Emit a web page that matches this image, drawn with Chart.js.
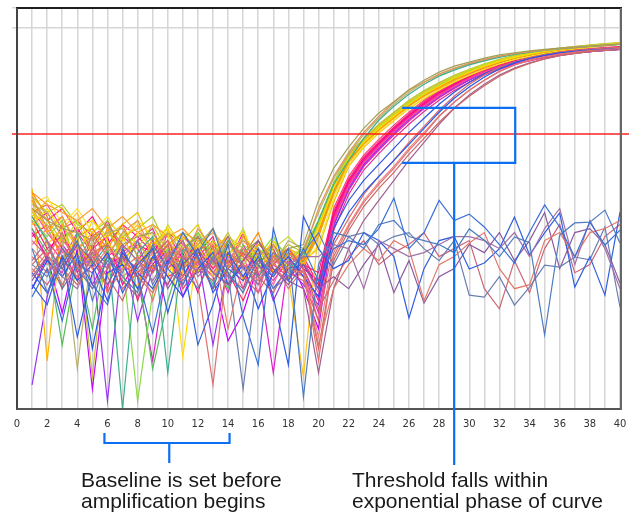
<!DOCTYPE html>
<html><head><meta charset="utf-8">
<script src="https://cdn.jsdelivr.net/npm/chart.js@4.4.1/dist/chart.umd.min.js"></script>
<style>
html,body{margin:0;padding:0;background:#fff;}
#wrap{position:relative;width:629px;height:516px;overflow:hidden;background:#fff;}
canvas{position:absolute;left:0;top:0;}
.note{position:absolute;font-family:"Liberation Sans",Arial,Helvetica,sans-serif;font-size:21px;line-height:21px;color:#1a1a1a;white-space:nowrap;}
</style></head><body>
<div id="wrap"><canvas id="c" width="629" height="516"></canvas>
<div class="note" style="left:81px;top:469px">Baseline is set before<br>amplification begins</div>
<div class="note" style="left:352px;top:469px">Threshold falls within<br>exponential phase of curve</div>
</div>
<script>
// ---- data (cycle number vs. fluorescence, arbitrary units 0-100) ----
const cycles = [1,2,3,4,5,6,7,8,9,10,11,12,13,14,15,16,17,18,19,20,21,22,23,24,25,26,27,28,29,30,31,32,33,34,35,36,37,38,39,40];
const xTickLabels = [0,2,4,6,8,10,12,14,16,18,20,22,24,26,28,30,32,34,36,38,40];
const yGridValues = [95,100];
const thresholdValue = 68.6;
const baselineBracket = [5.8, 14.1, 10.1];           // cycles: start, end, centre
const thresholdBox = [25.55, 33.05, 75.1, 61.4, 29]; // x1, x2, yTop, yBottom, stem cycle

const earlyCurves = [
 [50,47,45,44,42,46,41,43,44,38,40,43,36,41,39,42,37,40, 41,52,60,65.3,70,73.8,76.6,79.6,82,84,85.5,86.5,87.5,88.3,88.8,89.3,89.7,90,90.3,90.5,90.8,91],
 [53,45,48,40,43,38,44,47,39,42,37,45,40,35,43,38,41,36, 39,50,58,64,69,73,76.5,79.5,81.5,83.5,85,86.2,87.2,88,88.6,89.1,89.5,89.9,90.2,90.5,90.7,91],
 [48,42,30,44,36,41,0,39,43,9,40,38,31,42,36,33,39,35, 38,47,56,62,67.5,72,75.5,78.5,81,83,84.5,85.8,86.8,87.7,88.4,89,89.4,89.8,90.1,90.4,90.6,90.9],
 [51,49,43,10,41,44,45,38,40,44,39,41,45,37,42,40,36,42, 40,49,57.5,63.5,68.5,72.5,76,79,81.5,83.3,84.8,86,87,87.9,88.5,89,89.5,89.9,90.2,90.5,90.8,91]
];
const earlyColors = ['#a3a05a','#e0945a','#3fae8e','#b9b06e'];

const yellowCurves = [
 [46,50,44,38,47,42,35,44,40,45,13,41,33,40,44,37,42,35, 38,45,55,62.5,66.5,70,73,76,78.5,80.5,82.5,84,85.5,86.7,87.7,88.5,89.2,89.7,90.2,90.5,90.8,91.1],
 [52,44,48,41,36,45,39,30,43,38,42,35,40,43,32,41,38,40, 36,43,53.5,61.5,66,69.5,72.5,75.5,78,80,82,83.8,85.2,86.5,87.5,88.3,89,89.6,90,90.4,90.7,91],
 [49,46,41,47,38,33,44,41,37,46,40,34,42,38,45,35,40,43, 39,46,56,63,67,70.5,73.5,76.5,79,81,83,84.5,86,87,88,88.8,89.4,89.9,90.3,90.6,91,91.3],
 [54,48,36,43,45,40,46,38,35,41,44,39,36,42,38,44,34,39, 37,44,54.5,62,66.3,69.8,72.8,75.8,78.3,80.3,82.3,84,85.3,86.6,87.6,88.4,89.1,89.6,90.1,90.5,90.8,91.1],
 [47,43,47,35,42,46,37,2,29,40,36,44,39,33,41,38,43,37, 40,46.5,55.5,62.8,66.8,70.3,73.3,76.2,78.7,80.7,82.7,84.2,85.7,86.9,87.9,88.6,89.3,89.8,90.3,90.6,90.9,91.2],
 [50,41,45,49,39,35,42,46,38,33,43,40,45,36,39,42,38,33, 8,44.5,54.8,62.3,66.4,69.9,72.9,75.9,78.4,80.4,82.4,84,85.4,86.7,87.7,88.5,89.2,89.7,90.2,90.5,90.8,91.1],
 [45,39,16,37,20,41,38,35,10,27,39,44,37,30,40,36,41,34, 37,43,54,62,66.2,69.7,72.7,75.7,78.2,80.2,82.2,83.8,85.3,86.5,87.5,88.3,89,89.6,90.1,90.4,90.7,91],
 [52,47,42,45,8,44,40,40,46,39,35,41,38,44,36,40,37,41, 39,45.5,55.2,62.6,66.6,70.1,73.1,76.1,78.6,80.6,82.6,84.1,85.6,86.8,87.8,88.6,89.3,89.8,90.2,90.6,90.9,91.2],
 [55,12,46,40,44,39,43,36,41,45,34,42,39,35,43,38,36,40, 38,44,54.3,62.2,66.3,69.8,72.8,75.8,78.3,80.3,82.3,83.9,85.4,86.6,87.6,88.4,89.1,89.6,90.1,90.5,90.8,91.1],
 [54,51,49,47,50,45,48,44,46,43,45,41,44,40,42,38,41,37,39, 46,55.8,63.2,67.2,70.7,73.7,76.6,79.1,81.1,83,84.5,85.9,87.1,88.1,88.8,89.5,90,90.4,90.7,91,91.3],
 [51,53,46,50,44,48,42,47,43,45,40,44,41,38,43,39,36,40,36, 41,52.5,61,65.5,69,72,75,77.5,79.6,81.6,83.3,84.8,86.1,87.2,88,88.8,89.4,89.9,90.3,90.7,91],
 [48,52,50,45,47,43,46,49,41,44,42,46,38,42,37,41,39,35,37, 40,51.5,60.5,65.2,68.8,71.9,74.9,77.4,79.5,81.5,83.2,84.7,86,87.1,88,88.7,89.3,89.8,90.2,90.6,90.9],
 [53,49,51,46,44,47,43,45,48,40,44,42,39,43,40,37,42,38,40, 47,56.5,63.6,67.5,71,74,77,79.4,81.4,83.2,84.7,86.1,87.2,88.2,88.9,89.5,90,90.4,90.8,91.1,91.4]
];
const yellowColors = ['#ffdd00','#ffa800','#c8dc22','#ff8a00','#8ed84a','#ffc21e','#56bb5a','#c9c032','#ffb400','#ff9a30','#ffe030','#e6c800','#a8d030'];

const pinkCurves = [
 [44,38,46,34,40,43,31,37,42,35,39,29,41,36,44,33,38,40, 35,32,48.5,56.8,62.3,66.2,69.9,73.2,76.2,78.9,81,83,84.6,85.8,86.8,87.6,88.2,88.7,89.1,89.4,89.7,90],
 [48,42,37,44,39,30,43,40,34,44,37,41,35,39,30,42,36,33, 37,30,47.5,56.2,61.8,65.8,69.5,72.8,75.8,78.5,80.6,82.6,84.2,85.5,86.5,87.3,88,88.5,88.9,89.2,89.5,89.8],
 [43,46,40,32,44,38,41,27,38,42,33,39,43,31,37,40,34,38, 36,34,49.2,57.3,62.8,66.6,70.3,73.6,76.6,79.3,81.3,83.3,84.9,86.1,87.1,87.9,88.5,89,89.4,89.7,90,90.3],
 [50,44,39,41,35,45,38,42,36,31,40,37,33,42,38,29,41,37, 34,22,46.5,55.6,61.4,65.4,69.2,72.5,75.5,78.2,80.4,82.4,84,85.3,86.4,87.2,87.9,88.4,88.8,89.2,89.5,89.8],
 [6,28,41,36,37,2,39,22,35,40,31,38,16,36,33,39,27,35, 31,26,45.5,54.8,60.8,64.8,68.7,72.1,75.2,77.9,80.1,82.1,83.8,85.1,86.2,87.1,87.8,88.3,88.8,89.1,89.4,89.7],
 [45,37,34,42,31,38,36,33,12,37,42,34,38,29,41,34,9,37, 33,28,47,56,61.6,65.6,69.4,72.7,75.7,78.4,80.5,82.5,84.1,85.4,86.5,87.3,88,88.5,88.9,89.3,89.6,89.9],
 [47,40,43,36,41,29,37,41,39,33,35,43,37,34,27,36,40,32, 38,31,48,56.5,62,66,69.7,73,76,78.7,80.8,82.8,84.4,85.6,86.6,87.4,88.1,88.6,89,89.3,89.6,89.9],
 [41,45,38,40,37,42,33,36,40,38,30,36,40,37,35,38,31,39, 36,29,48.8,57,62.5,66.4,70.1,73.4,76.4,79.1,81.1,83.1,84.7,85.9,86.9,87.7,88.3,88.8,89.2,89.5,89.8,90.1],
 [30,38,24,40,5,36,38,33,36,41,28,37,33,17,24,36,33,38, 30,20,46,55.3,61.1,65.1,68.9,72.3,75.3,78,80.2,82.2,83.9,85.2,86.3,87.1,87.8,88.3,88.8,89.1,89.4,89.7],
 [52,47,50,44,48,41,46,43,39,44,41,38,42,36,40,37,34,39,35, 27,46,54.5,60.5,64.5,68.3,71.8,74.9,77.6,79.9,82,83.7,85,86.1,87,87.7,88.3,88.8,89.2,89.5,89.8],
 [49,51,45,47,43,46,40,44,42,37,43,39,35,41,38,35,39,33,36, 31,50,58,63.3,67.2,70.8,74,77,79.6,81.6,83.6,85.1,86.3,87.3,88.1,88.7,89.2,89.6,89.9,90.2,90.4],
 [46,49,43,45,40,47,39,42,45,36,40,43,37,33,39,36,32,37,34, 24,44.5,53.5,59.6,63.7,67.5,71,74.2,77,79.4,81.5,83.3,84.7,85.9,86.8,87.6,88.2,88.7,89.1,89.4,89.7]
];
const pinkColors = ['#ff0099','#ff3388','#ee2277','#ff5599','#9a35ee','#dd22cc','#ff2255','#ff66aa','#c400ff','#ff1a8c','#ff4477','#e0309a'];

const lateCurves = [
 [38,34,40,36,30,35,38,33,29,36,40,31,6,38,36,34,37,30, 35,12,38,45.5,51.5,56,60,64.5,68.5,73,76.5,79.5,82,84.2,85.8,87,87.8,88.5,89,89.4,89.6,89.9],
 [30,37,33,39,15,34,36,30,38,33,28,35,39,31,36,25,34,38, 33,28,42,49,54,58,62,66,70,74,77.5,80.3,82.8,84.8,86.3,87.4,88.2,88.8,89.2,89.5,89.7,89.9],
 [36,40,35,31,38,33,27,37,34,39,32,37,30,35,39,33,29,36, 34,15,37,44.5,50.5,55,59,63.5,67.5,71.5,75,78,80.6,83,84.8,86.2,87.3,88.1,88.7,89.1,89.4,89.7],
 [33,38,30,36,34,39,32,28,36,31,38,34,37,33,30,37,35,32, 30,9,30,40,47,52,57,62,66.5,71,75,78.3,81,83.3,85,86.3,87.3,88.1,88.7,89.1,89.4,89.7],
 [40,36,42,38,35,40,37,34,39,35,41,36,33,38,40,34,37,35, 33,18,39,46,52,56.5,60.5,65,69,73,76.5,79.5,82,84.2,85.8,87,87.8,88.5,89,89.4,89.6,89.9],
 [42,38,44,35,39,41,36,33,38,42,35,38,34,39,36,31,38,34,32, 22,41,47.5,53.5,58,62,66.5,70.5,74.5,78,81,83.3,85.2,86.6,87.6,88.4,89,89.4,89.7,90,90.2],
 [34,29,38,32,36,27,39,34,30,37,33,40,29,35,32,38,30,35,36, 30,45,52,57,61,65,69,72.5,76,79,81.5,83.6,85.2,86.5,87.5,88.3,88.9,89.3,89.6,89.8,90]
];
const lateColors = ['#e07070','#2257ee','#cc6666','#a06090','#f08080','#d86a6a','#3355dd'];

const flatCurves = [
 [28,35,22,38,31,26,40,33,19,36,44,38,30,41,23,11,45,32,40, 32,40,42,41,45,52.6,40,44,52,47,48.6,45.4,41,36.4,44.1,50.9,45.4,37.9,46.6,40.9,44.6],
 [40,29,36,42,27,38,33,29,41,35,31,39,45,34,29,38,33,40,3, 36,44,43,40,46,47,43,42,41,39,44.9,42.1,38,42.9,41.5,18.5,43.4,46.4,46.6,49.6,41.4],
 [37,42,33,30,39,35,41,37,32,38,42,33,37,43,35,31,39,36,38, 38,41,40,30,42,40,38,39,41,43,43,42,40,44,38,45,50,36,47,40,30],
 [34,39,31,37,43,29,35,38,27,39,33,37,41,20,36,32,38,35,34, 16,30,36,40,37,42,40,27,36,38,41.4,44,35,30,31,42,44,38,44,45,47],
 [31,26,38,18,34,39,29,36,40,24,37,16,26,39,33,40,28,11,48, 40,35,37,44,42,38,22.7,35,42,43,34.9,36.4,40,47.9,38.4,43.9,48.9,30.4,38,28.4,49.1],
 [36,33,40,35,30,37,34,42,31,38,35,30,38,34,5,36,30,33,39, 44,36,43,44,41,43,44,40,37,42,28.4,27.9,33,25.9,30.4,35.9,35.4,37.9,37.2,45.4,25.4],
 [32,38,35,41,37,31,38,35,40,30,36,40,34,31,37,42,35,31,36, 30,33,30,36,41,29,37,26.4,33,35,41,39,44,37,42,49,35,44,45,41,31.4],
 [35,31,37,33,40,36,30,34,37,41,30,35,32,37,33,29,36,40,35, 25,32,38,42,36,39,41,44,38,40,42,30,25,37,29,40,46,34,36,43,46]
];
const flatColors = ['#3a6fd8','#4d7cc0','#a070a8','#e07a6a','#2f5fe0','#6a7fb0','#8a5aa0','#cc6677'];

// ---- build datasets ----
const groups = [
  [flatCurves, flatColors],
  [lateCurves, lateColors],
  [earlyCurves, earlyColors],
  [yellowCurves, yellowColors],
  [pinkCurves, pinkColors]
];
const datasets = [];
groups.forEach(([rows, cols]) => {
  rows.forEach((row, i) => {
    datasets.push({
      data: cycles.map((c, k) => ({x: c, y: row[k]})),
      borderColor: cols[i % cols.length],
      borderWidth: 1.2,
      pointRadius: 0,
      fill: false,
      tension: 0
    });
  });
});

const BLUE = '#0b6ff4';
const annot = {
  id: 'annot',
  afterDatasetsDraw(chart) {
    const {ctx, chartArea: a, scales: {x, y}} = chart;
    ctx.save();
    // threshold line
    ctx.strokeStyle = '#ff2020'; ctx.lineWidth = 1.5;
    const ty = y.getPixelForValue(thresholdValue);
    ctx.beginPath(); ctx.moveTo(a.left - 5, ty); ctx.lineTo(chart.width, ty); ctx.stroke();
    // frame
    ctx.lineWidth = 2;
    ctx.strokeStyle = '#1e1e1e';
    ctx.beginPath(); ctx.moveTo(a.left - 1, a.top); ctx.lineTo(a.right + 2, a.top); ctx.stroke();
    ctx.strokeStyle = '#444';
    ctx.beginPath(); ctx.moveTo(a.left, a.top); ctx.lineTo(a.left, a.bottom + 1); ctx.stroke();
    ctx.strokeStyle = '#555';
    ctx.beginPath(); ctx.moveTo(a.left, a.bottom); ctx.lineTo(a.right + 2, a.bottom); ctx.stroke();
    ctx.strokeStyle = '#666';
    ctx.beginPath(); ctx.moveTo(a.right + 1, a.top); ctx.lineTo(a.right + 1, a.bottom + 1); ctx.stroke();
    // baseline bracket
    ctx.strokeStyle = BLUE; ctx.lineWidth = 2.2;
    const b1 = x.getPixelForValue(baselineBracket[0]);
    const b2 = x.getPixelForValue(baselineBracket[1]);
    const bc = x.getPixelForValue(baselineBracket[2]);
    ctx.beginPath();
    ctx.moveTo(b1, a.bottom + 24); ctx.lineTo(b1, a.bottom + 34); ctx.lineTo(b2, a.bottom + 34); ctx.lineTo(b2, a.bottom + 24);
    ctx.moveTo(bc, a.bottom + 34); ctx.lineTo(bc, a.bottom + 54);
    ctx.stroke();
    // threshold box
    const t1 = x.getPixelForValue(thresholdBox[0]);
    const t2 = x.getPixelForValue(thresholdBox[1]);
    const tt = y.getPixelForValue(thresholdBox[2]);
    const tb = y.getPixelForValue(thresholdBox[3]);
    const ts = x.getPixelForValue(thresholdBox[4]);
    ctx.beginPath();
    ctx.moveTo(t1, tt); ctx.lineTo(t2, tt); ctx.lineTo(t2, tb); ctx.lineTo(t1, tb);
    ctx.moveTo(ts, tb); ctx.lineTo(ts, a.bottom + 56);
    ctx.stroke();
    ctx.restore();
  }
};

new Chart(document.getElementById('c'), {
  type: 'line',
  data: {datasets},
  options: {
    responsive: false,
    animation: false,
    events: [],
    layout: {padding: {top: 8, right: 9, left: 0, bottom: 0}},
    plugins: {legend: {display: false}, tooltip: {enabled: false}},
    scales: {
      x: {
        type: 'linear', min: 0, max: 40,
        afterFit(s) { s.height = 107; s.paddingLeft = 0; s.paddingRight = 0; },
        ticks: {
          stepSize: 1, autoSkip: false, maxRotation: 0, padding: 9,
          color: '#333', font: {family: 'DejaVu Sans', size: 10},
          callback: v => xTickLabels.includes(v) ? String(v) : ''
        },
        grid: {color: '#d6d6d6', lineWidth: 1.5, drawTicks: false},
        border: {display: false}
      },
      y: {
        type: 'linear', min: 0, max: 100,
        afterFit(s) { s.width = 17; },
        afterBuildTicks(s) { s.ticks = yGridValues.map(v => ({value: v})); },
        ticks: {display: false},
        grid: {color: '#d6d6d6', lineWidth: 1.5, drawTicks: true, tickLength: 5},
        border: {display: false}
      }
    }
  },
  plugins: [annot]
});
</script>
</body></html>
